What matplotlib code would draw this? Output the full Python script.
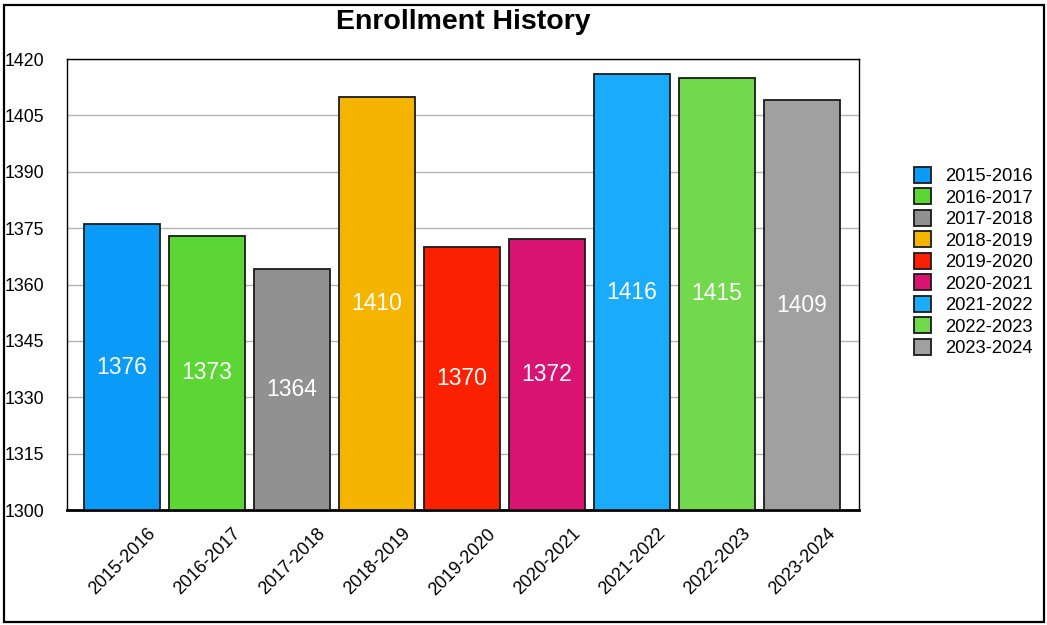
import numpy as np
from matplotlib import pyplot as plt
from matplotlib.patches import Rectangle, Patch

plt.rcParams['font.family'] = ['Liberation Sans', 'DejaVu Sans']

years = ["2015-2016", "2016-2017", "2017-2018", "2018-2019", "2019-2020",
         "2020-2021", "2021-2022", "2022-2023", "2023-2024"]
enrollment = [1376, 1373, 1364, 1410, 1370, 1372, 1416, 1415, 1409]
colors = ["#0a9bf8", "#5bd634", "#919191", "#f5b400", "#fa2000",
          "#d81372", "#1aabfb", "#72d84c", "#a0a0a0"]

W, H = 1047, 625
fig = plt.figure(figsize=(W / 100, H / 100), dpi=100)
# plot area in pixels: left 67, right 859, top 59, bottom 510
ax = fig.add_axes([67 / W, 1 - 510 / H, (859 - 67) / W, (510 - 59) / H])

base = 1300
x = np.arange(len(years))
ax.bar(x, np.array(enrollment) - base, bottom=base, width=0.89,
       color=colors, edgecolor="#1a1a1a", linewidth=1.3, zorder=3)

for xi, v in zip(x, enrollment):
    ax.text(xi, (base + v) / 2, str(v), ha="center", va="center",
            color="white", fontsize=16.5, zorder=4)

ax.set_ylim(1300, 1420)
ax.set_xlim(-0.647, 8.67)
ax.set_yticks(np.arange(1300, 1421, 15))
ax.yaxis.grid(True, color="#b4b4b4", linewidth=1, zorder=0)
ax.tick_params(axis="y", length=0, pad=44.6, labelsize=12.8)
for lab in ax.get_yticklabels():
    lab.set_horizontalalignment("left")

ax.set_xticks(x)
ax.set_xticklabels(years, rotation=45, ha="center", va="top", fontsize=13)
ax.tick_params(axis="x", length=0, pad=11)

for s in ax.spines.values():
    s.set_color("black")
    s.set_linewidth(1)
ax.spines["bottom"].set_linewidth(2)

fig.text(463 / W, 1 - 22 / H, "Enrollment History", ha="center", va="center",
         fontsize=20.5, fontweight="bold")

handles = [Patch(facecolor=c, edgecolor="#1a1a1a", linewidth=1.3) for c in colors]
fig.legend(handles, years, loc="center left", bbox_to_anchor=(897 / W, 1 - 262 / H),
           frameon=False, fontsize=13.2, handlelength=0.95, handleheight=0.95,
           handletextpad=0.75, labelspacing=0.18)

# outer frame
fig.patches.append(Rectangle((4 / W, 3 / H), (1044 - 4) / W, (620 - 3) / H,
                             transform=fig.transFigure, fill=False,
                             edgecolor="black", linewidth=1.6))

fig.savefig("out.png", dpi=100)
